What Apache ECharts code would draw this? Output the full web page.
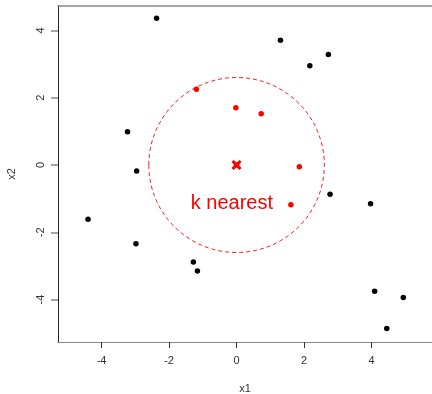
<!DOCTYPE html>
<html>
<head>
<meta charset="utf-8">
<script src="https://cdn.jsdelivr.net/npm/echarts@6/dist/echarts.min.js"></script>
<style>
  html, body { margin: 0; padding: 0; background: #fff; }
  #chart { width: 432px; height: 394px; }
</style>
</head>
<body>
<div id="chart"></div>
<script>
// other points (black)
var otherX = [-2.37, -3.23, -2.96, 1.30, 2.72, 2.17, 2.77, -4.40, -2.98, -1.28, -1.16, 3.97, 4.09, 4.94, 4.45];
var otherY = [4.36, 0.99, -0.18, 3.71, 3.28, 2.95, -0.87, -1.61, -2.34, -2.88, -3.15, -1.15, -3.75, -3.94, -4.86];
// k nearest points (red)
var nearX = [-1.19, -0.02, 0.73, 1.86, 1.61];
var nearY = [2.25, 1.70, 1.52, -0.05, -1.18];
// query point and radius
var queryPt = [0, 0];
var radius = 2.6;
var tickVals = [-4, -2, 0, 2, 4];
var labelText = 'k nearest';
var labelPos = [-0.14, -1.15];

var otherData = [];
for (var i = 0; i < otherX.length; i++) {
  otherData.push([otherX[i], otherY[i]]);
}
var nearData = [];
for (var i = 0; i < nearX.length; i++) {
  nearData.push([nearX[i], nearY[i]]);
}

var myChart = echarts.init(document.getElementById('chart'));

var option = {
  animation: false,
  textStyle: { fontFamily: 'Liberation Sans, Arial, sans-serif' },
  grid: { left: 58, top: 6, right: 0, bottom: 52, outerBoundsMode: 'none' },
  xAxis: [{
    type: 'value',
    min: -5.29,
    max: 5.79,
    name: 'x1',
    nameLocation: 'middle',
    nameGap: 41,
    nameTextStyle: { color: '#333', fontSize: 11 },
    splitLine: { show: false },
    axisLine: { show: true, onZero: false, lineStyle: { color: '#888', width: 1 } },
    axisTick: { show: true, length: 6, customValues: tickVals, lineStyle: { color: '#333' } },
    axisLabel: { customValues: tickVals, color: '#333', fontSize: 11, margin: 13 }
  }, {
    type: 'value',
    position: 'top',
    min: -5.29,
    max: 5.79,
    splitLine: { show: false },
    axisLine: { show: true, onZero: false, lineStyle: { color: '#888', width: 1.5 } },
    axisTick: { show: false },
    axisLabel: { show: false }
  }],
  yAxis: {
    type: 'value',
    min: -5.26,
    max: 4.725,
    name: 'x2',
    nameLocation: 'middle',
    nameGap: 41,
    nameRotate: 90,
    nameTextStyle: { color: '#333', fontSize: 11 },
    splitLine: { show: false },
    axisLine: { show: true, onZero: false, lineStyle: { color: '#222', width: 1 } },
    axisTick: { show: true, length: 7, customValues: tickVals, lineStyle: { color: '#888', width: 1.5 } },
    axisLabel: { customValues: tickVals, color: '#333', fontSize: 11, rotate: 90, margin: 12 }
  },
  series: [
    {
      type: 'custom',
      silent: true,
      data: [[queryPt[0], queryPt[1], radius]],
      renderItem: function (params, api) {
        var c = api.coord([api.value(0), api.value(1)]);
        var s = api.size([api.value(2), api.value(2)]);
        return {
          type: 'ellipse',
          shape: { cx: c[0], cy: c[1], rx: s[0], ry: s[1] },
          style: { fill: 'none', stroke: '#ff2020', lineWidth: 1, lineDash: [4, 3] }
        };
      }
    },
    {
      type: 'scatter',
      data: otherData,
      symbolSize: 5.5,
      itemStyle: { color: '#000', opacity: 1 }
    },
    {
      type: 'scatter',
      data: nearData,
      symbolSize: 5.5,
      itemStyle: { color: '#ff0000', opacity: 1 }
    },
    {
      type: 'scatter',
      data: [queryPt],
      symbol: 'path://M2,0 L5,2.5 L8,0 L10,2 L7.5,5 L10,8 L8,10 L5,7.5 L2,10 L0,8 L2.5,5 L0,2 Z',
      symbolSize: 10,
      itemStyle: { color: '#ff0000', opacity: 1 }
    },
    {
      type: 'scatter',
      data: [labelPos],
      symbolSize: 0,
      itemStyle: { opacity: 1 },
      label: {
        show: true,
        position: 'inside',
        formatter: labelText,
        color: '#ff0000',
        opacity: 1,
        fontSize: 20
      }
    }
  ]
};

myChart.setOption(option);
</script>
</body>
</html>
